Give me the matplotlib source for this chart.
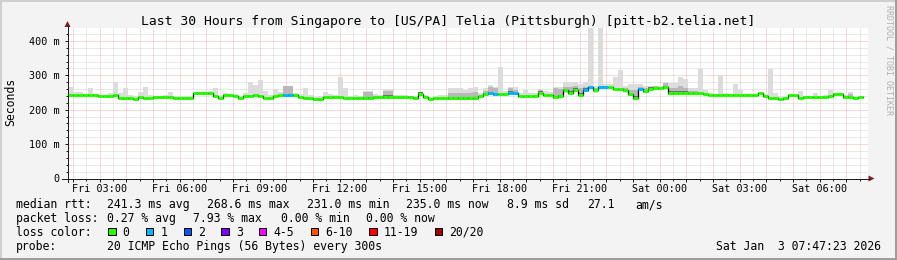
import numpy as np
import matplotlib
matplotlib.use("Agg")
import matplotlib.pyplot as plt
from matplotlib.lines import Line2D
from matplotlib.patches import Polygon, Rectangle

plt.rcParams['font.family'] = ['DejaVu Sans Mono']

# ---- data ----
start_h = 1 + 47 / 60 + 23 / 3600      # Fri 01:47:23, hours since Fri 00:00
span_h = 30
n_samples = 160

median_ms = [
    244, 244, 243, 242, 242, 242, 240, 240, 240, 243, 235, 235, 235, 231, 236, 235, 235, 236, 236, 236,
    236, 233, 233, 233, 233, 248, 248, 248, 248, 240, 234, 242, 244, 240, 234, 240, 240, 244, 240, 233,
    233, 241, 243, 243, 243, 243, 238, 234, 234, 231, 231, 237, 237, 237, 237, 234, 234, 234, 234, 234,
    234, 236, 236, 238, 238, 237, 237, 237, 236, 234, 247, 236, 231, 234, 233, 233, 233, 233, 233, 233,
    233, 233, 240, 246, 248, 246, 246, 246, 250, 248, 240, 240, 240, 240, 250, 244, 244, 236, 240, 256,
    250, 258, 244, 258, 265, 256, 267, 267, 265, 261, 261, 256, 246, 235, 260, 254, 261, 262, 262, 266,
    249, 249, 249, 250, 248, 248, 250, 246, 243, 242, 242, 242, 242, 242, 242, 242, 242, 242, 248, 240,
    233, 233, 231, 234, 242, 242, 235, 236, 236, 236, 236, 236, 240, 246, 246, 238, 237, 233, 236, np.nan,
]

loss_cnt = [
    0, 0, 0, 0, 0, 0, 0, 0, 0, 0, 0, 0, 0, 0, 0, 0, 0, 0, 0, 0,
    0, 0, 0, 0, 0, 0, 0, 0, 0, 0, 0, 0, 0, 0, 0, 0, 0, 0, 0, 0,
    0, 0, 0, 1, 1, 0, 0, 0, 0, 0, 0, 0, 0, 0, 0, 0, 0, 0, 0, 0,
    0, 0, 0, 0, 0, 0, 0, 0, 0, 0, 0, 0, 0, 0, 0, 0, 0, 0, 0, 0,
    0, 0, 0, 0, 1, 1, 0, 0, 1, 1, 0, 0, 0, 0, 0, 0, 0, 0, 0, 0,
    0, 0, 0, 1, 1, 0, 1, 1, 0, 0, 0, 0, 0, 0, 1, 0, 0, 0, 0, 0,
    0, 0, 0, 0, 0, 0, 0, 0, 0, 0, 0, 0, 0, 0, 0, 0, 0, 0, 0, 0,
    0, 0, 0, 0, 0, 0, 0, 0, 0, 0, 0, 0, 0, 0, 0, 0, 0, 0, 0, 0,
]

# highest ping of each sample (light smoke)
smoke_top_ms = [
    265, 251, 251, 246, 264, 246, 244, 244, 248, 280, 250, 264, 244, 240, 251, 265, 244, 240, 241, 244,
    251, 238, 240, 238, 240, 252, 252, 252, 255, 262, 240, 248, 247, 246, 240, 248, 280, 272, 287, 254,
    244, 261, 252, 270, 270, 248, 246, 264, 244, 238, 240, 251, 245, 244, 294, 264, 240, 242, 240, 254,
    254, 245, 242, 261, 261, 244, 244, 244, 241, 240, 252, 244, 238, 240, 242, 244, 264, 264, 262, 258,
    262, 265, 250, 262, 273, 265, 324, 255, 265, 265, 250, 256, 248, 250, 261, 255, 252, 265, 265, 280,
    280, 280, 275, 280, 437, 270, 437, 275, 275, 294, 316, 270, 275, 275, 275, 268, 268, 268, 268, 280,
    277, 277, 294, 290, 264, 264, 319, 256, 250, 246, 299, 248, 246, 275, 258, 246, 245, 246, 252, 246,
    319, 248, 240, 238, 246, 246, 254, 240, 240, 248, 240, 244, 256, 250, 250, 244, 252, 238, 240, np.nan,
]

# top of the dense (dark) smoke, 0 = none
dark_top_ms = [
    0, 0, 0, 0, 0, 0, 0, 0, 0, 0, 0, 0, 0, 0, 0, 0, 0, 0, 0, 0,
    0, 0, 0, 0, 0, 0, 0, 0, 0, 0, 0, 0, 0, 0, 0, 0, 0, 0, 0, 0,
    0, 0, 0, 268, 268, 0, 0, 0, 0, 0, 0, 0, 0, 0, 0, 0, 0, 0, 0, 250,
    250, 0, 0, 255, 255, 0, 0, 0, 0, 0, 252, 0, 0, 0, 0, 0, 248, 250, 250, 248,
    250, 252, 0, 255, 265, 262, 0, 0, 262, 258, 0, 0, 0, 0, 256, 0, 0, 262, 260, 265,
    266, 268, 262, 265, 0, 262, 0, 0, 0, 0, 0, 262, 256, 256, 266, 262, 266, 268, 266, 278,
    262, 262, 270, 262, 255, 255, 0, 0, 0, 0, 0, 0, 0, 0, 0, 0, 0, 0, 0, 0,
    0, 0, 0, 0, 0, 0, 0, 0, 0, 0, 0, 0, 0, 0, 0, 0, 245, 0, 0, 0,
]

x_tick_hours = [3, 6, 9, 12, 15, 18, 21, 24, 27, 30]
x_tick_labels = ['Fri 03:00', 'Fri 06:00', 'Fri 09:00', 'Fri 12:00', 'Fri 15:00',
                 'Fri 18:00', 'Fri 21:00', 'Sat 00:00', 'Sat 03:00', 'Sat 06:00']
y_ticks = [0, 100, 200, 300, 400]
y_tick_labels = ['0', '100 m', '200 m', '300 m', '400 m']

loss_names = ['0', '1', '2', '3', '4-5', '6-10', '11-19', '20/20']
loss_colors = ['#26ff00', '#00b8ff', '#0059ff', '#7e00ff', '#ff00ff', '#ff5500', '#ff0000', '#a10000']

title = 'Last 30 Hours from Singapore to [US/PA] Telia (Pittsburgh) [pitt-b2.telia.net]'
rtt_items = ['median rtt:', '241.3 ms avg', '268.6 ms max', '231.0 ms min',
             '235.0 ms now', '8.9 ms sd', '27.1', 'am/s']
loss_items = ['packet loss:', '0.27 % avg', '7.93 % max', '0.00 % min', '0.00 % now']
probe_text = '20 ICMP Echo Pings (56 Bytes) every 300s'
stamp = 'Sat Jan  3 07:47:23 2026'

# ---- layout (pixels of the 897x260 image) ----
W, H = 897, 260
def fx(x):
    return x / W
def fy(y):
    return 1 - y / H

fig = plt.figure(figsize=(W / 100, H / 100), dpi=100, facecolor='#f3f3f3')

# 3d frame
fig.add_artist(Rectangle((0, fy(2)), 1, 2 / H, transform=fig.transFigure, color='#cfcfcf', lw=0))
fig.add_artist(Rectangle((0, 0), 2 / W, 1, transform=fig.transFigure, color='#cfcfcf', lw=0))
fig.add_artist(Rectangle((0, 0), 1, 2 / H, transform=fig.transFigure, color='#9e9e9e', lw=0))
fig.add_artist(Rectangle((fx(W - 2), 0), 2 / W, 1, transform=fig.transFigure, color='#9e9e9e', lw=0))

ax_left, ax_right, ax_top, ax_bot = 67.5, 867.5, 28, 178.5
ax = fig.add_axes([fx(ax_left), fy(ax_bot), (ax_right - ax_left) / W, (ax_bot - ax_top) / H])
ax.set_facecolor('white')
for s in ax.spines.values():
    s.set_visible(False)

ymax = (ax_bot - ax_top) / 0.344
ax.set_xlim(start_h, start_h + span_h)
ax.set_ylim(0, ymax)

# grid
ax.set_xticks(np.arange(2, 32, 1))
ax.set_xticks(np.arange(2, 32, 0.5), minor=True)
ax.set_xticklabels([x_tick_labels[x_tick_hours.index(h)] if h in x_tick_hours else ''
                    for h in range(2, 32)])
ax.set_yticks(y_ticks)
ax.set_yticklabels(y_tick_labels)
ax.set_yticks(np.arange(0, ymax, 20), minor=True)
ax.grid(which='minor', color='#8f8f8f', alpha=0.38, lw=0.72, linestyle=(0, (1, 1)))
ax.grid(which='major', color='#de5050', alpha=0.42, lw=0.72, linestyle=(0, (1, 1)))
ax.set_axisbelow(True)
ax.tick_params(which='major', length=2.2, width=0.72, color='#1f1f1f', labelsize=7.3)
ax.tick_params(which='minor', length=1.4, width=0.72, color='#1f1f1f')
ax.tick_params(axis='x', which='major', pad=2)
ax.tick_params(axis='y', which='major', pad=3.4)

# data: smoke first, then the median coloured by loss
dt = span_h / n_samples
med = np.array(median_ms, dtype=float)
top = np.array(smoke_top_ms, dtype=float)
dark = np.array(dark_top_ms, dtype=float)
x0 = start_h + dt * np.arange(n_samples)
has_dark = dark > 0

lo_light = np.where(has_dark, med - 6, med - 3)
ax.bar(x0, top - lo_light, bottom=lo_light, width=dt, align='edge',
       color='#dcdcdc', lw=0, zorder=2)
ax.bar(x0[has_dark], dark[has_dark] - (med[has_dark] - 5), bottom=med[has_dark] - 5,
       width=dt, align='edge', color='#b8b8b8', lw=0, zorder=2.1)
core_top = np.minimum(dark, med + 4)
ax.bar(x0[has_dark], core_top[has_dark] - (med[has_dark] - 3), bottom=med[has_dark] - 3,
       width=dt, align='edge', color='#707070', lw=0, zorder=2.2)

ax.step(np.append(x0, x0[-1] + dt), np.append(med, med[-1]), where='post',
        color='black', lw=0.9, zorder=3)
ax.hlines(med, x0, x0 + dt, colors=[loss_colors[l] for l in loss_cnt], lw=2.2, zorder=4)

# axes lines and arrows
axis_c = '#1f1f1f'
fig.add_artist(Line2D([fx(ax_left), fx(ax_left)], [fy(181.5), fy(25)], transform=fig.transFigure,
                      color=axis_c, lw=0.72))
fig.add_artist(Line2D([fx(62), fx(870)], [fy(ax_bot), fy(ax_bot)], transform=fig.transFigure,
                      color=axis_c, lw=0.72))
fig.add_artist(Polygon([(fx(ax_left), fy(21)), (fx(ax_left - 3), fy(27)), (fx(ax_left + 3), fy(27))],
                       closed=True, transform=fig.transFigure, color='#7f1f1f', lw=0))
fig.add_artist(Polygon([(fx(874.5), fy(ax_bot)), (fx(868.5), fy(ax_bot - 3)), (fx(868.5), fy(ax_bot + 3))],
                       closed=True, transform=fig.transFigure, color='#7f1f1f', lw=0))

# texts
fig.text(fx(448), fy(24.5), title, ha='center', va='baseline', fontsize=9.4)
fig.text(fx(10.5), fy(102), 'Seconds', rotation=90, ha='center', va='center', fontsize=8.3)
fig.text(fx(889), fy(60), 'RRDTOOL / TOBI OETIKER', rotation=270, ha='center', va='center',
         fontsize=6, color='#b0b0b0')

fs = 8.3
for txt, x in zip(rtt_items, [16, 107.3, 207.3, 306.7, 406, 506.7, 586.7, 635]):
    fig.text(fx(x), fy(208.3), txt, ha='left', va='baseline', fontsize=fs)
for txt, x in zip(loss_items, [16, 107.3, 193.3, 281, 365.7]):
    fig.text(fx(x), fy(222.3), txt, ha='left', va='baseline', fontsize=fs)

fig.text(fx(16), fy(235.7), 'loss color:', ha='left', va='baseline', fontsize=fs)
bx = 108.3
for name, col in zip(loss_names, loss_colors):
    fig.add_artist(Rectangle((fx(bx), fy(235.3)), 7.4 / W, 7.4 / H, transform=fig.transFigure,
                             facecolor=col, edgecolor='black', lw=0.72))
    fig.text(fx(bx + 14.4), fy(235.7), name, ha='left', va='baseline', fontsize=fs)
    bx += 14.4 + len(name) * 6.97 + 16.3

fig.text(fx(16), fy(250), 'probe:', ha='left', va='baseline', fontsize=fs)
fig.text(fx(107.3), fy(250), probe_text, ha='left', va='baseline', fontsize=fs)
fig.text(fx(881), fy(250), stamp, ha='right', va='baseline', fontsize=fs)

fig.savefig('out.png', dpi=100, facecolor=fig.get_facecolor())
